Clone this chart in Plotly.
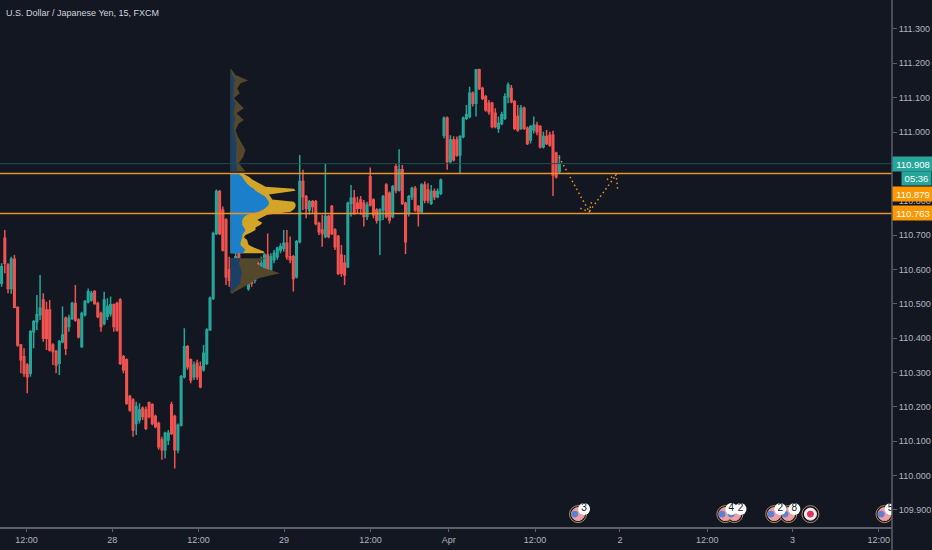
import plotly.graph_objects as go

title_text = "U.S. Dollar / Japanese Yen, 15, FXCM"
opens = [110.560,110.691,110.613,110.545,110.630,110.490,110.380,110.346,110.322,110.298,110.419,110.448,110.468,110.511,110.482,110.482,110.380,110.361,110.327,110.390,110.458,110.434,110.458,110.501,110.453,110.375,110.468,110.506,110.511,110.535,110.501,110.472,110.443,110.463,110.472,110.497,110.501,110.511,110.346,110.337,110.230,110.220,110.152,110.162,110.196,110.191,110.213,110.206,110.172,110.152,110.104,110.075,110.104,110.206,110.172,110.075,110.147,110.288,110.375,110.337,110.288,110.327,110.317,110.308,110.327,110.424,
110.516,110.705,110.827,110.773,110.744,110.599,110.589,110.550,110.671,110.608,110.618,110.545,110.618,110.569,110.618,110.589,110.589,110.642,110.599,110.628,110.637,110.657,110.662,110.676,110.637,110.637,110.579,110.681,110.856,110.812,110.773,110.797,110.797,110.734,110.715,110.696,110.754,110.783,110.715,110.696,110.642,110.618,110.608,110.793,110.807,110.793,110.802,110.793,110.754,110.870,110.802,110.773,110.744,110.773,110.846,110.822,110.754,110.899,110.831,110.890,110.793,110.763,110.812,110.836,110.783,110.768,110.846,110.831,110.793,110.827,110.812,110.822,
110.991,111.040,110.914,110.977,110.977,110.933,110.987,111.040,111.045,111.113,111.084,111.181,111.127,111.103,111.084,111.084,111.055,111.011,111.025,111.040,111.103,111.127,111.088,111.045,111.011,111.069,111.011,110.977,111.006,111.020,111.016,110.957,110.987,110.991,110.991,110.938,110.885]
closes = [110.608,110.618,110.545,110.630,110.490,110.380,110.337,110.298,110.288,110.419,110.448,110.468,110.487,110.400,110.400,110.366,110.361,110.322,110.390,110.409,110.371,110.458,110.501,110.453,110.404,110.472,110.506,110.535,110.531,110.501,110.463,110.434,110.511,110.492,110.497,110.434,110.424,110.327,110.308,110.211,110.191,110.133,110.201,110.191,110.172,110.138,110.172,110.152,110.143,110.084,110.075,110.123,110.123,110.123,110.075,110.147,110.288,110.375,110.317,110.278,110.322,110.288,110.259,110.356,110.424,110.516,
110.705,110.827,110.705,110.657,110.579,110.569,110.550,110.637,110.608,110.579,110.579,110.613,110.560,110.608,110.579,110.618,110.642,110.594,110.637,110.647,110.662,110.666,110.676,110.637,110.628,110.574,110.681,110.856,110.812,110.778,110.797,110.783,110.734,110.710,110.705,110.754,110.696,110.705,110.666,110.589,110.589,110.584,110.793,110.807,110.763,110.778,110.778,110.754,110.788,110.788,110.759,110.744,110.773,110.812,110.754,110.744,110.841,110.831,110.890,110.793,110.681,110.812,110.836,110.773,110.768,110.846,110.802,110.802,110.827,110.812,110.827,110.860,
111.040,110.914,110.977,110.919,110.933,110.987,111.040,111.050,111.113,111.084,111.181,111.127,111.098,111.064,111.059,111.016,111.016,111.025,111.050,111.103,111.137,111.088,111.011,111.006,111.069,111.011,110.967,111.016,111.020,111.001,110.957,110.987,110.967,110.962,110.875,110.870,110.908]
highs = [110.618,110.715,110.618,110.637,110.642,110.492,110.383,110.371,110.327,110.424,110.453,110.526,110.584,110.531,110.506,110.511,110.385,110.366,110.395,110.492,110.463,110.468,110.506,110.555,110.458,110.477,110.511,110.545,110.538,110.540,110.506,110.477,110.535,110.516,110.521,110.501,110.506,110.516,110.351,110.341,110.235,110.225,110.215,110.211,110.201,110.201,110.215,110.211,110.177,110.157,110.113,110.128,110.133,110.215,110.177,110.152,110.293,110.429,110.380,110.341,110.332,110.337,110.332,110.380,110.429,110.521,
110.710,110.833,110.831,110.783,110.749,110.637,110.599,110.666,110.676,110.618,110.628,110.618,110.623,110.628,110.628,110.637,110.647,110.705,110.647,110.657,110.666,110.676,110.715,110.715,110.696,110.642,110.686,110.933,110.890,110.817,110.802,110.802,110.802,110.739,110.759,110.907,110.759,110.788,110.720,110.700,110.671,110.642,110.797,110.846,110.831,110.812,110.814,110.802,110.797,110.897,110.807,110.778,110.778,110.817,110.851,110.827,110.846,110.907,110.950,110.904,110.797,110.817,110.841,110.843,110.788,110.851,110.856,110.851,110.846,110.836,110.836,110.865,
111.045,111.045,110.991,110.988,110.987,110.991,111.045,111.079,111.132,111.118,111.183,111.184,111.132,111.108,111.093,111.088,111.069,111.045,111.059,111.113,111.144,111.137,111.093,111.079,111.079,111.074,111.016,111.020,111.045,111.030,111.020,111.001,111.006,111.001,111.004,110.943,110.933]
lows = [110.550,110.589,110.531,110.529,110.487,110.375,110.298,110.288,110.240,110.288,110.371,110.424,110.453,110.390,110.366,110.361,110.322,110.298,110.293,110.385,110.351,110.419,110.453,110.448,110.400,110.372,110.463,110.501,110.506,110.497,110.458,110.419,110.438,110.453,110.463,110.419,110.419,110.322,110.298,110.206,110.186,110.113,110.118,110.152,110.162,110.133,110.167,110.147,110.138,110.075,110.046,110.050,110.089,110.118,110.021,110.065,110.143,110.283,110.308,110.269,110.278,110.278,110.254,110.303,110.322,110.424,
110.511,110.700,110.700,110.652,110.555,110.550,110.531,110.545,110.569,110.550,110.560,110.538,110.550,110.560,110.574,110.579,110.584,110.589,110.589,110.618,110.628,110.647,110.652,110.628,110.618,110.536,110.574,110.676,110.773,110.749,110.759,110.763,110.729,110.700,110.666,110.691,110.691,110.700,110.657,110.584,110.579,110.555,110.604,110.754,110.759,110.763,110.759,110.725,110.744,110.783,110.749,110.734,110.642,110.744,110.749,110.734,110.749,110.822,110.827,110.788,110.645,110.754,110.802,110.768,110.725,110.763,110.793,110.793,110.788,110.802,110.807,110.817,
110.982,110.890,110.909,110.914,110.928,110.880,110.982,111.035,111.040,111.074,111.045,111.122,111.093,111.059,111.050,111.011,111.011,110.998,111.020,111.035,111.084,111.084,111.006,111.001,111.006,111.006,110.962,110.967,110.996,110.991,110.952,110.952,110.962,110.957,110.814,110.865,110.880]

x_tick_bars = [7.78,34.5,61.4,88.1,115.1,139.5,166.4,192.9,220.1,246.7,273.6]
x_tick_labels = ["12:00","28","12:00","29","12:00","Apr","12:00","2","12:00","3","12:00"]
y_tick_values = [109.9,110.0,110.1,110.2,110.3,110.4,110.5,110.6,110.7,110.8,110.9,111.0,111.1,111.2,111.3]

profile_prices = [111.183,111.166,111.150,111.142,111.127,111.113,111.098,111.084,111.069,111.055,111.035,111.025,111.006,110.987,110.967,110.948,110.928,110.909,110.885,
110.880,110.875,110.870,110.862,110.856,110.849,110.841,110.835,110.829,110.824,110.818,110.812,110.804,110.797,110.790,110.783,110.775,110.768,110.763,110.759,110.752,110.744,110.736,110.730,110.722,110.715,110.707,110.700,110.694,110.686,110.678,110.671,110.664,110.657,110.652,110.647,
110.633,110.618,110.604,110.589,110.574,110.560,110.545,110.531]
profile_up = [0,1.7,5,3.3,3.3,3.3,2.3,5,4,3.3,5,3.3,3.3,5,6,6,5.3,5.3,6.7,
8.3,9.3,11.7,13.3,15,16.7,20,23.3,25,28.3,31.7,35,36.7,38.3,38.3,36.7,33.3,28.3,21.7,16.7,13.3,11.7,11.7,11.7,13.3,15,13.3,11.7,11.7,10.7,10,10,12.7,15,13.3,13.3,
10,8.3,10,11.7,10,10,5,0.7]
profile_total = [0.7,5,17.7,10,6.7,9.3,3.3,8.3,13.3,6,13.3,8.3,5,7.3,11.7,15,12.7,8.3,15,
11.7,15,18.3,21.7,25,30,35,63.3,65,50,38.3,40,41.7,63.3,65,65,63.3,60,43.3,36.7,31.7,26.7,31.7,30,25,25,20,15,13.3,16.7,17.3,18.3,23.3,28.3,33.3,34,
35,25,33.3,49.3,26.7,20,10,1.7]
profile_base_bar = 71.4
profile_scale = 1 / 3.2
value_area_high = 110.882
value_area_low = 110.640

levels_orange = [110.879, 110.763]
level_teal = 110.908
label_countdown = "05:36"

path_bars = [173.9, 183.3, 191.7]
path_prices = [110.927, 110.768, 110.875]
head1_bars = [180.5, 183.3, 184.2]
head1_prices = [110.778, 110.768, 110.804]
head2_bars = [188.8, 191.7, 192.2]
head2_prices = [110.862, 110.875, 110.831]

flag_bars = [179.8, 225.75, 228.6, 241.0, 245.4, 275.4]
flag_counts = ["3", "4", "2", "2", "8", "5"]
japan_bar = 252.3
event_price = 109.888
badge_price = 109.903

BG = "#131722"
TEXT = "#b2b5be"
AXIS = "#5d606b"
ORANGE = "#e8932a"

fig = go.Figure()

def profile_polygon(values, low, high, color):
    idx = [k for k, p in enumerate(profile_prices) if low <= p <= high]
    xs = [profile_base_bar + values[k] * profile_scale for k in idx]
    ys = [profile_prices[k] for k in idx]
    xs = [profile_base_bar] + xs + [profile_base_bar]
    ys = [ys[0]] + ys + [ys[-1]]
    fig.add_trace(go.Scatter(x=xs, y=ys, mode="lines", fill="toself", fillcolor=color,
                             line=dict(width=0), hoverinfo="skip", showlegend=False))

profile_polygon(profile_total, value_area_high, 112, "#54482c")
profile_polygon(profile_up, value_area_high, 112, "#1c3f63")
profile_polygon(profile_total, 109, value_area_low, "#54482c")
profile_polygon(profile_up, 109, value_area_low, "#1c3f63")
profile_polygon(profile_total, value_area_low, value_area_high, "#d2a528")
profile_polygon(profile_up, value_area_low, value_area_high, "#1c7fcb")

fig.add_trace(go.Candlestick(
    x=list(range(len(opens))), open=opens, high=highs, low=lows, close=closes,
    increasing=dict(line=dict(color="#26a69a", width=1.5), fillcolor="#26a69a"),
    decreasing=dict(line=dict(color="#ef5350", width=1.5), fillcolor="#ef5350"),
    whiskerwidth=0, hoverinfo="skip", showlegend=False))

for bx, py in ((path_bars, path_prices), (head1_bars, head1_prices), (head2_bars, head2_prices)):
    fig.add_trace(go.Scatter(x=bx, y=py, mode="lines", hoverinfo="skip", showlegend=False,
                             line=dict(color=ORANGE, width=1.5, dash="1.5px 3px")))

def event_markers(bars, color, size, line_color=None, symbol="circle"):
    fig.add_trace(go.Scatter(x=bars, y=[event_price] * len(bars), mode="markers", hoverinfo="skip",
                             showlegend=False,
                             marker=dict(color=color, size=size, symbol=symbol,
                                         line=dict(color=line_color or color, width=1))))

event_markers(flag_bars + [japan_bar], BG, 17, "#b08a58")
event_markers(flag_bars, "#ef9fa4", 13)
event_markers([b - 1 for b in flag_bars], "#5b82d2", 6)
event_markers([japan_bar], "#f4eef0", 12)
event_markers([japan_bar], "#e5305b", 6)
fig.add_trace(go.Scatter(x=[b + 1.9 for b in flag_bars], y=[badge_price] * len(flag_bars),
                         mode="markers+text", text=flag_counts, textposition="middle center",
                         textfont=dict(family="Liberation Sans", size=10, color="#131722"),
                         marker=dict(color="#ffffff", size=12), hoverinfo="skip", showlegend=False))

shapes = [dict(type="line", xref="paper", x0=0, x1=1, yref="y", y0=level_teal, y1=level_teal,
               line=dict(color="#1d4f52", width=1))]
for lv in levels_orange:
    shapes.append(dict(type="line", xref="paper", x0=0, x1=1, yref="y", y0=lv, y1=lv,
                       line=dict(color=ORANGE, width=1.5)))
shapes.append(dict(type="line", xref="paper", x0=1, x1=1, yref="paper", y0=-0.05, y1=1,
                   line=dict(color=AXIS, width=1.5)))

def price_label(text, price, color, yshift=0, width=40, height=14):
    return dict(text=text, xref="paper", x=1, xanchor="right" if width < 40 else "left",
                xshift=40 if width < 40 else 0, yref="y", y=price, yanchor="middle", yshift=yshift,
                showarrow=False, bgcolor=color, width=width, height=height, borderpad=0, align="center",
                font=dict(family="Liberation Sans", size=9.5, color="#ffffff"))

annotations = [
    price_label(f"{level_teal:.3f}", level_teal, "#26a69a"),
    price_label(label_countdown, level_teal, "#26a69a", yshift=-15, width=29, height=13),
    price_label(f"{levels_orange[0]:.3f}", levels_orange[0], "#ff9800", yshift=-20),
    price_label(f"{levels_orange[1]:.3f}", levels_orange[1], "#ff9800"),
    dict(text=title_text, xref="paper", yref="paper", x=0, y=1, xanchor="left", yanchor="top",
         xshift=4, yshift=-6, showarrow=False, font=dict(family="Liberation Sans", size=9, color="#d1d4dc")),
]

fig.update_layout(
    width=932, height=550, autosize=False, paper_bgcolor=BG, plot_bgcolor=BG,
    margin=dict(l=0, r=40, t=0, b=23), showlegend=False, shapes=shapes, annotations=annotations,
    font=dict(family="Liberation Sans", size=9, color=TEXT),
    xaxis=dict(range=[-0.5, 277.75], rangeslider=dict(visible=False), showgrid=False, zeroline=False,
               tickmode="array", tickvals=x_tick_bars, ticktext=x_tick_labels, ticks="outside",
               ticklen=3, tickcolor=AXIS, showline=True, linecolor=AXIS, linewidth=1.5,
               tickfont=dict(color=TEXT, size=9)),
    yaxis=dict(range=[109.8505, 111.3843], side="right", showgrid=False, zeroline=False,
               tickmode="array", tickvals=y_tick_values, tickformat=".3f", ticks="outside",
               ticklen=4, tickcolor=AXIS, showline=False,
               tickfont=dict(color=TEXT, size=9)),
)

fig.write_html("out.html", config=dict(displayModeBar=False),
               post_script="document.body.style.margin='0';document.documentElement.style.overflow='hidden';document.documentElement.style.background='#131722';")
